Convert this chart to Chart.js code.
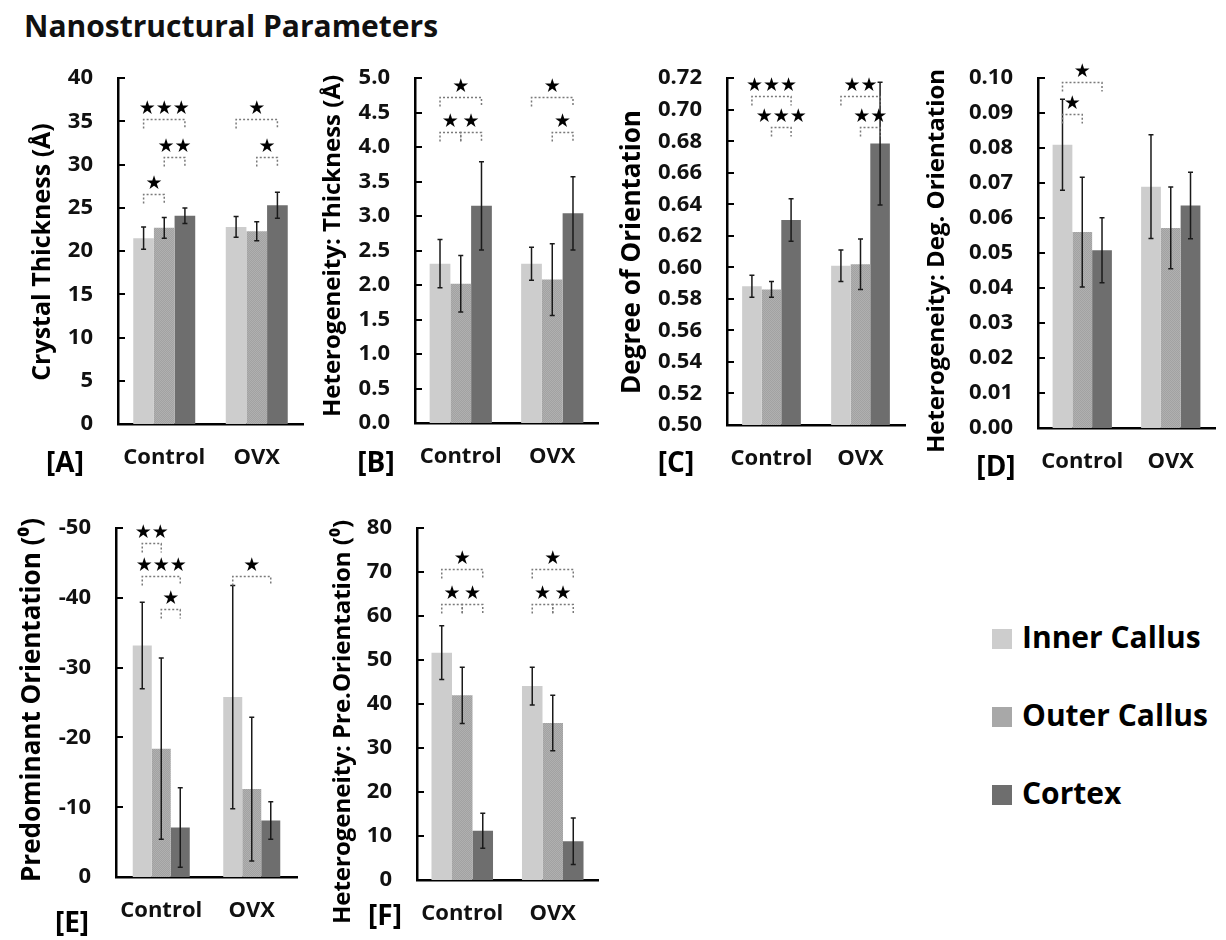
<!DOCTYPE html>
<html>
<head>
<meta charset="utf-8">
<script src="https://cdn.jsdelivr.net/npm/chart.js@4.4.1/dist/chart.umd.min.js"></script>
<style>
  body { margin: 0; background: #fff; }
  #page { position: relative; width: 1226px; height: 940px; overflow: hidden; }
  #page canvas { position: absolute; }
  .main-title { position: absolute; left: 24px; top: 5px; font: bold 30px "Open Sans", sans-serif; color: #111; white-space: nowrap; }
  .legend { position: absolute; left: 992px; top: 616px; font: bold 30px "Open Sans", sans-serif; color: #000; }
  .legend div { height: 78px; display: flex; align-items: flex-start; }
  .legend span.sw { display: inline-block; width: 20px; height: 20px; margin: 13px 10px 0 0; }
</style>
</head>
<body>
<div id="page">
  <div class="main-title">Nanostructural Parameters</div>
  <div class="legend" id="legend"></div>
</div>
<script>
// categories and series
const groups = ['Control', 'OVX'];
const seriesNames = ['Inner Callus', 'Outer Callus', 'Cortex'];

// [A] crystal thickness, rows = series, cols = groups
const thickMean = [[21.5, 22.8], [22.7, 22.3], [24.1, 25.3]];
const thickErr = [[1.3, 1.2], [1.2, 1.1], [0.9, 1.5]];
const thickTicks = ['0', '5', '10', '15', '20', '25', '30', '35', '40'];
const thickSig = [[0, 0, 1, 26.6, 1], [0, 1, 2, 30.9, 2], [0, 0, 2, 35.3, 3], [1, 1, 2, 30.9, 1], [1, 0, 2, 35.3, 1]];

// [B] heterogeneity of thickness
const hetThickMean = [[2.31, 2.31], [2.02, 2.08], [3.15, 3.04]];
const hetThickErr = [[0.35, 0.24], [0.41, 0.52], [0.64, 0.53]];
const hetThickTicks = ['0.0', '0.5', '1.0', '1.5', '2.0', '2.5', '3.0', '3.5', '4.0', '4.5', '5.0'];
const hetThickSig = [[0, 0, 1, 4.22, 1], [0, 1, 2, 4.22, 1], [0, 0, 2, 4.73, 1], [1, 1, 2, 4.22, 1], [1, 0, 2, 4.73, 1]];

// [C] degree of orientation
const degMean = [[0.588, 0.601], [0.586, 0.602], [0.630, 0.6785]];
const degErr = [[0.007, 0.010], [0.005, 0.016], [0.0135, 0.039]];
const degTicks = ['0.50', '0.52', '0.54', '0.56', '0.58', '0.60', '0.62', '0.64', '0.66', '0.68', '0.70', '0.72'];
const degSig = [[0, 0, 2, 0.709, 3], [0, 1, 2, 0.689, 3], [1, 0, 2, 0.709, 2], [1, 1, 2, 0.689, 2]];

// [D] heterogeneity of degree of orientation
const hetDegMean = [[0.081, 0.069], [0.056, 0.0572], [0.0508, 0.0636]];
const hetDegErr = [[0.013, 0.0148], [0.0157, 0.0117], [0.0093, 0.0095]];
const hetDegTicks = ['0.00', '0.01', '0.02', '0.03', '0.04', '0.05', '0.06', '0.07', '0.08', '0.09', '0.10'];
const hetDegSig = [[0, 0, 1, 0.0897, 1], [0, 0, 2, 0.099, 1]];

// [E] predominant orientation
const predMean = [[-33.2, -25.8], [-18.4, -12.6], [-7.1, -8.1]];
const predErr = [[6.2, 16.0], [13.0, 10.3], [5.7, 2.7]];
const predTicks = ['-50', '-40', '-30', '-20', '-10', '0'];
const predSig = [[0, 0, 1, -47.9, 2], [0, 0, 2, -43.2, 3], [0, 1, 2, -38.4, 1], [1, 0, 2, -43.2, 1]];

// [F] heterogeneity of predominant orientation
const hetPredMean = [[51.7, 44.1], [42.0, 35.7], [11.2, 8.8]];
const hetPredErr = [[6.1, 4.3], [6.4, 6.3], [4.0, 5.3]];
const hetPredTicks = ['0', '10', '20', '30', '40', '50', '60', '70', '80'];
const hetPredSig = [[0, 0, 1, 62.8, 1], [0, 1, 2, 62.8, 1], [0, 0, 2, 70.7, 1], [1, 0, 1, 62.8, 1], [1, 1, 2, 62.8, 1], [1, 0, 2, 70.7, 1]];

const FONT = '"Open Sans", sans-serif';
Chart.defaults.font.family = FONT;
Chart.defaults.color = '#000';

// dotted fill for outer callus
const pc = document.createElement('canvas');
pc.width = 2; pc.height = 2;
const pctx = pc.getContext('2d');
pctx.fillStyle = '#a2a2a2'; pctx.fillRect(0, 0, 2, 2);
pctx.fillStyle = '#b0b0b0'; pctx.fillRect(0, 0, 1, 1); pctx.fillRect(1, 1, 1, 1);
const outerPattern = pctx.createPattern(pc, 'repeat');

const barColors = ['#cdcdcd', outerPattern, '#6e6e6e'];
const swatchColors = ['#cdcdcd', '#a8a8a8', '#6e6e6e'];

const legend = document.getElementById('legend');
seriesNames.forEach((n, i) => {
  const row = document.createElement('div');
  row.innerHTML = '<span class="sw" style="background:' + swatchColors[i] + '"></span>' + n;
  legend.appendChild(row);
});

const extras = {
  id: 'extras',
  afterDraw(chart, args, o) {
    const ctx = chart.ctx;
    const y = chart.scales.y;
    const area = chart.chartArea;
    ctx.save();
    // inside tick marks
    ctx.strokeStyle = '#000';
    ctx.lineWidth = 2;
    y.ticks.forEach(t => {
      const py = Math.round(y.getPixelForValue(t.value));
      ctx.beginPath();
      ctx.moveTo(area.left, py);
      ctx.lineTo(area.left + 7, py);
      ctx.stroke();
    });
    // error bars
    ctx.strokeStyle = '#1a1a1a';
    ctx.lineWidth = 1.5;
    o.errors.forEach((row, s) => {
      chart.getDatasetMeta(s).data.forEach((bar, g) => {
        const v = chart.data.datasets[s].data[g];
        const y1 = y.getPixelForValue(v + row[g]);
        const y2 = y.getPixelForValue(v - row[g]);
        ctx.beginPath();
        ctx.moveTo(bar.x, y1); ctx.lineTo(bar.x, y2);
        ctx.moveTo(bar.x - 2.5, y1); ctx.lineTo(bar.x + 2.5, y1);
        ctx.moveTo(bar.x - 2.5, y2); ctx.lineTo(bar.x + 2.5, y2);
        ctx.stroke();
      });
    });
    // significance brackets
    o.brackets.forEach(([g, a, b, val, n]) => {
      const x1 = chart.getDatasetMeta(a).data[g].x;
      const x2 = chart.getDatasetMeta(b).data[g].x;
      const py = Math.round(y.getPixelForValue(val)) + 0.5;
      ctx.setLineDash([2, 2]);
      ctx.strokeStyle = '#7a7a7a';
      ctx.lineWidth = 1.5;
      ctx.beginPath();
      ctx.moveTo(x1, py + 9); ctx.lineTo(x1, py); ctx.lineTo(x2, py); ctx.lineTo(x2, py + 9);
      ctx.stroke();
      ctx.setLineDash([]);
      ctx.fillStyle = '#000';
      ctx.font = '19px "DejaVu Sans"';
      ctx.textAlign = 'center';
      ctx.textBaseline = 'middle';
      ctx.fillText('\u2605'.repeat(n), (x1 + x2) / 2, py - 10);
    });
    // axis title and panel letter
    ctx.fillStyle = '#000';
    ctx.textAlign = 'center';
    ctx.textBaseline = 'middle';
    ctx.font = 'bold ' + o.titleSize + 'px ' + FONT;
    ctx.translate(o.titleX, o.titleY);
    ctx.rotate(-Math.PI / 2);
    ctx.fillText(o.title, 0, 0);
    ctx.setTransform(1, 0, 0, 1, 0, 0);
    ctx.font = 'bold 28px ' + FONT;
    ctx.fillText(o.letter, o.letterX, o.letterY);
    ctx.restore();
  }
};

const panels = [
  { box: [0, 40, 310, 450], yW: 118, xH: 66, pad: [30, 7], mean: thickMean, err: thickErr, ticks: thickTicks, sig: thickSig,
    title: 'Crystal Thickness (\u00c5)', tSize: 25, tPos: [43, 252], letter: '[A]', lPos: [65, 464], cat: 0.67 },
  { box: [300, 40, 305, 450], yW: 115, xH: 67, pad: [30, 7], mean: hetThickMean, err: hetThickErr, ticks: hetThickTicks, sig: hetThickSig,
    title: 'Heterogeneity: Thickness (\u00c5)', tSize: 24, tPos: [333, 246], letter: '[B]', lPos: [376, 464], cat: 0.68 },
  { box: [605, 40, 305, 450], yW: 122, xH: 65, pad: [32, 5], mean: degMean, err: degErr, ticks: degTicks, sig: degSig,
    title: 'Degree of Orientation', tSize: 26, tPos: [633, 252], letter: '[C]', lPos: [676, 464], cat: 0.66 },
  { box: [905, 40, 318, 450], yW: 133, xH: 62, pad: [33, 8], mean: hetDegMean, err: hetDegErr, ticks: hetDegTicks, sig: hetDegSig,
    title: 'Heterogeneity: Deg. Orientation', tSize: 24, tPos: [937, 261], letter: '[D]', lPos: [996, 468], cat: 0.67 },
  { box: [0, 490, 305, 450], yW: 116, xH: 63, pad: [32, 8], mean: predMean, err: predErr, ticks: predTicks, sig: predSig,
    title: 'Predominant Orientation (\u2070)', tSize: 26, tPos: [33, 700], letter: '[E]', lPos: [72, 924], cat: 0.63, reverse: true },
  { box: [300, 490, 305, 450], yW: 117, xH: 60, pad: [33, 7], mean: hetPredMean, err: hetPredErr, ticks: hetPredTicks, sig: hetPredSig,
    title: 'Heterogeneity: Pre.Orientation (\u2070)', tSize: 24, tPos: [343, 722], letter: '[F]', lPos: [385, 917], cat: 0.68 }
];

panels.forEach(p => {
  const [left, top, w, h] = p.box;
  const cv = document.createElement('canvas');
  cv.width = w; cv.height = h;
  cv.style.left = left + 'px'; cv.style.top = top + 'px';
  cv.style.width = w + 'px'; cv.style.height = h + 'px';
  document.getElementById('page').appendChild(cv);
  const tickVals = p.ticks.map(Number);

  new Chart(cv, {
    type: 'bar',
    data: {
      labels: groups,
      datasets: seriesNames.map((n, i) => ({
        label: n,
        data: p.mean[i],
        backgroundColor: barColors[i],
        borderWidth: 0,
        categoryPercentage: p.cat,
        barPercentage: 1.0
      }))
    },
    options: {
      responsive: false,
      animation: false,
      devicePixelRatio: 1,
      layout: { padding: { top: p.pad[0], right: p.pad[1], left: 0, bottom: 0 } },
      plugins: {
        legend: { display: false },
        tooltip: { enabled: false },
        extras: {
          errors: p.err, brackets: p.sig,
          title: p.title, titleSize: p.tSize, titleX: p.tPos[0] - left, titleY: p.tPos[1] - top,
          letter: p.letter, letterX: p.lPos[0] - left, letterY: p.lPos[1] - top
        }
      },
      scales: {
        x: {
          grid: { display: false, drawTicks: false },
          border: { display: true, color: '#000', width: 2.5 },
          ticks: { font: { size: 22, weight: 'bold' }, color: '#111', padding: 21 },
          afterFit: s => { s.height = p.xH; }
        },
        y: {
          min: tickVals[0],
          max: tickVals[tickVals.length - 1],
          reverse: !!p.reverse,
          grid: { display: false, drawTicks: false },
          border: { display: true, color: '#000', width: 2.5 },
          ticks: {
            autoSkip: false,
            padding: 25,
            font: { size: 22, weight: 'bold' },
            color: '#111',
            callback: (v, i) => p.ticks[i]
          },
          afterBuildTicks: s => { s.ticks = tickVals.map(v => ({ value: v })); },
          afterFit: s => { s.width = p.yW; }
        }
      }
    },
    plugins: [extras]
  });
});
</script>
</body>
</html>
